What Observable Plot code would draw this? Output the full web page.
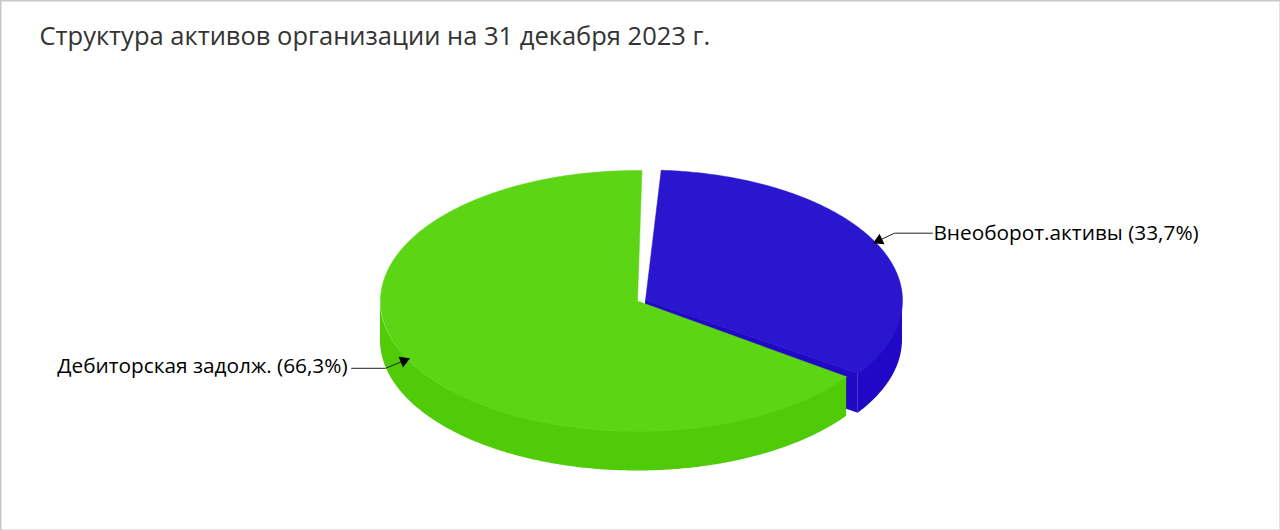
<!DOCTYPE html>
<html lang="ru">
<head>
<meta charset="utf-8">
<script src="https://cdn.jsdelivr.net/npm/d3@7"></script>
<script src="https://cdn.jsdelivr.net/npm/@observablehq/plot@0.6"></script>
<style>html,body{margin:0;padding:0;background:#fff}svg{display:block}</style>
</head>
<body>
<div id="chart"></div>
<script>
// Data
const titleText = "Структура активов организации на 31 декабря 2023 г.";
const labels = ["Внеоборот.активы", "Дебиторская задолж."];
const shares = [33.7, 66.3];
const shareLabels = ["33,7%", "66,3%"];

// Layout and style
const W = 1280, H = 530;
const radiusX = 257, radiusY = 130.5, depth = 39.5;
const centers = [{x: 645, y: 300}, {x: 637, y: 300.5}];
const topColors = ["#2a16cf", "#5bd514"];
const sideColors = ["#2008c6", "#4fcb08"];
const startAngle = 2.8;
const leadPad = [0.7, 1.4];
const tailPad = [0, 1.8];
const elbowDx = [19, -22];
const elbowDy = [-9, 9];
const labelRun = [38, -34];
const labelGap = [1, -4];
const labelShift = [0, -2];

// Slice angles from the shares (clockwise from the top of the ellipse)
let acc = startAngle;
const slices = shares.map((s, i) => {
  const a0 = acc, a1 = acc + s * 3.6;
  acc = a1;
  return {i, a0: a0 + leadPad[i], a1: a1 - tailPad[i], mid: (a0 + a1) / 2};
});
const pt = (i, deg) => {
  const r = deg * Math.PI / 180;
  return {x: centers[i].x + radiusX * Math.sin(r), y: centers[i].y - radiusY * Math.cos(r)};
};
const arc = (i, a0, a1) => d3.range(a0, a1, 0.5).concat([a1]).map(a => pt(i, a));

const sector = s => [centers[s.i], ...arc(s.i, s.a0, s.a1), centers[s.i]];
const withDepth = p => ({x: p.x, y1: p.y, y2: p.y + depth});

const blue = slices[0], green = slices[1];
const blueOuterWall = arc(0, 90, blue.a1).map(withDepth);
const blueCutWall = [centers[0], pt(0, blue.a1)].map(withDepth);
const greenOuterWall = arc(1, green.a0, 270).map(withDepth);

const leaders = slices.map(s => {
  const a = pt(s.i, s.mid);
  const e = {x: a.x + elbowDx[s.i], y: a.y + elbowDy[s.i]};
  const end = {x: e.x + labelRun[s.i], y: e.y};
  const len = Math.hypot(a.x - e.x, a.y - e.y);
  const ux = (a.x - e.x) / len, uy = (a.y - e.y) / len;
  return {
    i: s.i, path: [a, e, end],
    head: {x: a.x - ux * 4, y: a.y - uy * 4, rotate: Math.atan2(ux, -uy) * 180 / Math.PI},
    text: `${labels[s.i]} (${shareLabels[s.i]})`,
    tx: end.x + labelGap[s.i],
    ty: e.y + labelShift[s.i]
  };
});

const font = "'Open Sans', 'Noto Sans', sans-serif";
const chart = Plot.plot({
  width: W, height: H,
  marginTop: 0, marginRight: 0, marginBottom: 0, marginLeft: 0,
  x: {domain: [0, W], range: [0, W], axis: null},
  y: {domain: [0, H], range: [0, H], axis: null},
  style: {background: "#fff", fontFamily: font},
  marks: [
    Plot.frame({stroke: "#c8c8c8", strokeWidth: 2}),
    // blue slice
    Plot.areaY(blueOuterWall, {x: "x", y1: "y1", y2: "y2", fill: sideColors[0]}),
    Plot.areaY(blueCutWall, {x: "x", y1: "y1", y2: "y2", fill: sideColors[0]}),
    Plot.line(sector(blue), {x: "x", y: "y", fill: topColors[0], stroke: topColors[0], strokeWidth: 0.5, curve: "linear"}),
    // green slice
    Plot.areaY(greenOuterWall, {x: "x", y1: "y1", y2: "y2", fill: sideColors[1]}),
    Plot.line(sector(green), {x: "x", y: "y", fill: topColors[1], stroke: topColors[1], strokeWidth: 0.5, curve: "linear"}),
    // leaders
    ...leaders.map(l => Plot.line(l.path, {x: "x", y: "y", stroke: "#222", strokeWidth: 1})),
    Plot.dot(leaders.map(l => l.head), {x: "x", y: "y", rotate: "rotate", symbol: "triangle2", r: 5.5, fill: "#000"}),
    Plot.text(leaders.filter(l => l.i === 0), {x: "tx", y: "ty", text: "text", textAnchor: "start", fill: "#000", fontSize: 20.8}),
    Plot.text(leaders.filter(l => l.i === 1), {x: "tx", y: "ty", text: "text", textAnchor: "end", fill: "#000", fontSize: 20.8}),
    Plot.text([titleText], {x: () => 39, y: () => 36, text: d => d, textAnchor: "start", fill: "#333", fontSize: 25.5})
  ]
});
document.getElementById("chart").append(chart);
</script>
</body>
</html>
